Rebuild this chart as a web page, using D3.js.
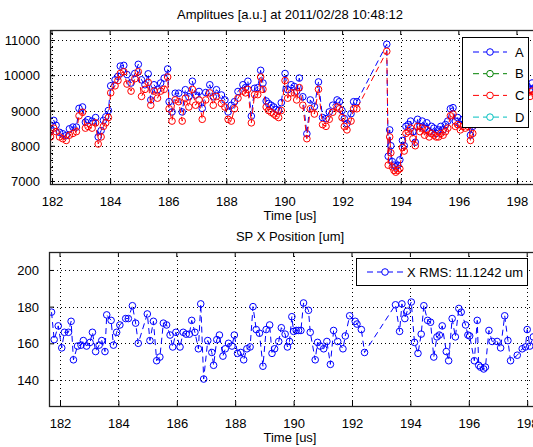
<!DOCTYPE html>
<html><head><meta charset="utf-8">
<script src="https://cdn.jsdelivr.net/npm/d3@7"></script>
<style>
html,body{margin:0;padding:0;background:#fff;}
svg{display:block;}
text{font-family:"Liberation Sans",Arial,Helvetica,sans-serif;font-size:13px;fill:#000;}
</style></head><body>
<svg id="chart" width="533" height="447"></svg>
<script>
// ---------- data ----------
const timeTop = [
181.95,182.06,182.14,182.26,182.37,182.49,182.60,182.72,182.84,182.93,
183.05,183.15,183.24,183.38,183.50,183.59,183.69,183.77,183.85,183.94,
184.02,184.17,184.27,184.35,184.47,184.58,184.72,184.85,184.97,185.08,
185.20,185.31,185.40,185.51,185.63,185.74,185.86,185.98,186.03,186.13,
186.24,186.36,186.48,186.59,186.71,186.83,186.94,187.06,187.17,187.29,
187.43,187.55,187.66,187.83,187.95,188.06,188.17,188.28,188.40,188.57,
188.66,188.74,188.86,188.97,189.08,189.18,189.26,189.37,189.45,189.54,
189.63,189.71,189.80,189.89,190.02,190.11,190.23,190.34,190.42,190.51,
190.63,190.77,190.89,191.03,191.17,191.31,191.43,191.54,191.66,191.81,
191.89,191.98,192.06,192.15,192.29,192.38,192.49,
193.52,193.57,193.62,193.66,193.71,193.77,193.83,193.90,193.97,194.06,
194.12,194.18,194.26,194.34,194.42,194.50,194.58,194.66,194.74,194.82,
194.90,194.98,195.06,195.14,195.22,195.30,195.38,195.46,195.54,195.62,
195.71,195.80,195.88,195.96,196.05,196.14,196.22,196.32,196.40,196.48,
196.56,196.65,196.75,196.85,196.95,197.05,197.15,197.25,197.35,197.45,
197.55,197.65,197.75,197.85,197.95,198.05,198.15,198.25,198.35,198.45,
198.52,198.62];
const ampA = [
8430,8720,8580,8380,8340,8290,8480,8530,8530,9060,
9100,8670,8740,8700,8800,8250,8430,8720,8820,9000,
9700,9870,9970,10260,10280,10020,9780,10050,10310,9870,
9730,10040,9300,9730,9590,9780,9920,10180,9250,8960,
9490,9490,8960,9590,9390,9830,9440,9540,9060,9510,
9730,9390,9590,9440,9300,8960,9150,9250,9540,9730,
9650,9830,8840,9630,9650,10140,9780,9270,9200,9150,
9100,9030,9000,9220,10050,9590,9730,9680,9550,9920,
9390,8340,9300,9110,9810,8800,8770,8960,9150,9300,
9250,9000,8770,8630,8910,9250,9250,
10880,7700,8450,8000,7550,7450,7400,7450,7600,8150,
8000,8550,8600,8700,8400,8100,8750,8550,8700,8500,
8650,8400,8550,8500,8350,8450,8550,8450,8600,8700,
9050,9080,8700,8800,8600,8750,8650,8700,8300,8550,
8800,9000,9150,9050,9300,9200,9400,9250,9500,9350,
9450,9300,9550,9400,9600,9450,9650,9500,9700,9600,
9780,9650];
const ampB = [];
const ampC = [
8250,8500,8400,8250,8200,8150,8300,8350,8400,8850,
8950,8500,8550,8500,8650,8050,8250,8550,8650,8800,
9500,9700,9850,10050,10100,9750,9550,9900,10100,9400,
9600,9800,9150,9550,9350,9550,9600,9950,9050,8700,
9300,9250,8700,9350,9100,9600,9150,9300,8750,9300,
9500,9150,9400,9200,9100,8750,8700,9050,9350,9550,
9500,9600,8650,9450,9450,9950,9600,9100,9000,8950,
8900,8850,8800,9000,9850,9350,9500,9500,9300,9650,
9150,8200,9050,8900,9600,8600,8550,8750,8950,9100,
9050,8800,8550,8450,8700,9050,9050,
10680,7450,8250,7800,7400,7300,7250,7300,7350,7950,
7850,8350,8400,8500,8200,8000,8550,8400,8500,8300,
8450,8250,8350,8300,8250,8250,8350,8300,8400,8500,
8850,8900,8550,8600,8450,8550,8500,8550,8150,8350,
8600,8800,8950,8850,9100,9000,9200,9050,9300,9150,
9250,9100,9350,9200,9400,9250,9450,9300,9500,9400,
9550,9450];
const ampD = [];
const seriesNames = ["A","B","C","D"];
const seriesColors = ["#0000ff","#008000","#ff0000","#00bfbf"];

const timeBottom = [
181.71,181.80,181.94,182.06,182.15,182.29,182.38,182.46,182.60,182.72,
182.80,182.91,183.03,183.11,183.22,183.34,183.43,183.54,183.60,183.75,
183.83,183.94,184.05,184.25,184.34,184.48,184.59,184.68,184.99,185.08,
185.20,185.31,185.42,185.54,185.65,185.77,185.86,185.97,186.11,186.22,
186.32,186.43,186.51,186.62,186.74,186.82,186.92,187.06,187.20,187.26,
187.37,187.46,187.58,187.66,187.77,187.89,187.97,188.08,188.19,188.29,
188.40,188.51,188.61,188.72,188.83,188.95,189.06,189.18,189.26,189.35,
189.49,189.58,189.71,189.79,189.86,189.94,190.00,190.09,190.17,190.25,
190.34,190.51,190.57,190.74,190.82,190.91,191.03,191.14,191.26,191.37,
191.51,191.69,191.77,191.92,192.11,192.17,192.32,192.43,193.49,193.63,
193.71,193.81,193.89,194.03,194.14,194.26,194.37,194.46,194.59,194.69,
194.80,194.91,194.99,195.09,195.23,195.31,195.43,195.54,195.66,195.74,
195.89,195.97,196.03,196.19,196.29,196.34,196.40,196.51,196.57,196.69,
196.80,196.97,197.09,197.23,197.34,197.43,197.66,197.83,197.94,198.00,
198.09,198.21,198.32,198.45];
const posX = [
177,162,169.5,157.5,166,166,172,151,158.5,159,
161.5,158.5,160.5,166,155.5,159,161.5,155.5,175.5,172.5,
159,166,170,173.5,173.5,180.5,171,160,176,161.5,
172,150.5,152.5,171,170,164.5,158,166,158,166,
165,165,172.5,166,157,181.5,140.5,161.5,155,148,
162,164.5,153,157,160,158.5,164.5,154.5,155,151,
157,158,180,167.5,165.5,147.5,167.5,170,154.5,157,
161,168.5,165,158,161,174.5,166.5,167,167,167,
182,178,166,151,160.5,158.5,157,161,148.5,167,
161,157,164,175,172,170.5,167.5,155,181,166.5,
181.5,173.5,177.5,182.5,160.5,154.5,165,180.5,172.5,171.5,
152.5,163.5,164.5,169.5,155.5,150.5,173.5,163.5,179,177,
170,164.5,164,150.5,172.5,148,147,146,147,167,
161,161,157.5,175,161.5,150.5,153.5,157,158,167.5,
158.5,163.5,160,165];

const timeTicks = [182,184,186,188,190,192,194,196,198];
const ampTicks = [7000,8000,9000,10000,11000];
const posTicks = [140,160,180,200];
const titleTop = "Amplitues [a.u.] at 2011/02/28 10:48:12";
const titleBottom = "SP X Position [um]";
const xLabelText = "Time [us]";
const posLegendText = "X RMS: 11.1242 um";

// ---------- drawing ----------
const svg = d3.select("#chart");
const defs = svg.append("defs");

function panel(id, box, xDom, yDom, yTicks, yMinor) {
  const x = d3.scaleLinear().domain(xDom).range([box.l, box.r]);
  const y = d3.scaleLinear().domain(yDom).range([box.b, box.t]);
  const g = svg.append("g");
  defs.append("clipPath").attr("id", id).append("rect")
    .attr("x", box.l).attr("y", box.t).attr("width", box.r - box.l).attr("height", box.b - box.t);
  // grid
  const grid = g.append("g").attr("stroke", "#000").attr("stroke-width", 1)
    .attr("stroke-dasharray", "1,3").attr("shape-rendering", "crispEdges");
  timeTicks.forEach(t => {
    const xx = Math.round(x(t)) + 0.5;
    if (xx > box.l + 1 && xx < box.r) grid.append("line").attr("x1", xx).attr("x2", xx).attr("y1", box.t).attr("y2", box.b);
  });
  yTicks.forEach(v => {
    const yy = Math.round(y(v)) + 0.5;
    grid.append("line").attr("x1", box.l).attr("x2", box.r).attr("y1", yy).attr("y2", yy);
  });
  // axes via d3 axis (ticks inside)
  const xAxis = d3.axisBottom(x).tickValues(timeTicks).tickSizeInner(-5).tickSizeOuter(0).tickPadding(10).tickFormat(d3.format("d"));
  const yAxis = d3.axisLeft(y).tickValues(yTicks).tickSizeInner(-5).tickSizeOuter(0).tickPadding(10).tickFormat(d3.format("d"));
  const gx = g.append("g").attr("transform", `translate(0,${box.b})`).call(xAxis);
  const gy = g.append("g").attr("transform", `translate(${box.l},0)`).call(yAxis);
  [gx, gy].forEach(a => {
    a.select(".domain").remove();
    a.selectAll("line").attr("stroke", "#000");
    a.selectAll("text").attr("font-size", 13).attr("font-family", '"Liberation Sans",Arial,sans-serif').attr("fill", "#000");
  });
  gx.selectAll("text").attr("dy", "0.9em");
  gy.selectAll("text").attr("dy", "0.35em");
  // top ticks
  g.append("g").selectAll("line").data(timeTicks).join("line")
    .attr("x1", d => x(d)).attr("x2", d => x(d)).attr("y1", box.t).attr("y2", box.t + 5).attr("stroke", "#000");
  if (yMinor) {
    g.append("g").selectAll("line").data(d3.range(yDom[0] - yDom[0] % yMinor + yMinor, yDom[1], yMinor)).join("line")
      .attr("x1", box.l).attr("x2", box.l + 3).attr("y1", d => Math.round(y(d)) + 0.5).attr("y2", d => Math.round(y(d)) + 0.5)
      .attr("stroke", "#000");
  }
  const plot = g.append("g").attr("clip-path", `url(#${id})`);
  // box
  g.append("rect").attr("x", box.l + 0.5).attr("y", box.t + 0.5).attr("width", box.r - box.l).attr("height", box.b - box.t)
    .attr("fill", "none").attr("stroke", "#222").attr("stroke-width", 1.3);
  return {x, y, g, plot};
}

function series(p, times, vals, color) {
  const pts = vals.map((v, i) => [times[i], v]).filter(d => d[0] != null && d[1] != null);
  if (!pts.length) return;
  const line = d3.line().x(d => p.x(d[0])).y(d => p.y(d[1]));
  p.plot.append("path").datum(pts).attr("d", line).attr("fill", "none")
    .attr("stroke", color).attr("stroke-width", 1).attr("stroke-dasharray", "6,4");
  p.plot.append("g").selectAll("circle").data(pts).join("circle")
    .attr("cx", d => p.x(d[0])).attr("cy", d => p.y(d[1])).attr("r", 3.3)
    .attr("fill", "none").attr("stroke", color).attr("stroke-width", 1);
}

function legendEntry(g, x0, x1, yy, color, label, tx) {
  g.append("line").attr("x1", x0).attr("x2", x1).attr("y1", yy).attr("y2", yy)
    .attr("stroke", color).attr("stroke-dasharray", "6,4");
  g.append("circle").attr("cx", (x0 + x1) / 2).attr("cy", yy).attr("r", 3.3)
    .attr("fill", "#fff").attr("stroke", color);
  g.append("text").attr("x", tx).attr("y", yy).attr("dy", "0.36em").text(label);
}

// top panel
const boxTop = {l: 50, r: 545, t: 30, b: 184};
const pTop = panel("clipTop", boxTop, [181.931, 198.965], [6915, 11284], ampTicks, 200);
[ampA, ampB, ampC, ampD].forEach((arr, i) => series(pTop, timeTop, arr, seriesColors[i]));
svg.append("text").attr("x", 290).attr("y", 19).attr("text-anchor", "middle").text(titleTop);
svg.append("text").attr("x", 290).attr("y", 220).attr("text-anchor", "middle").text(xLabelText);
const lgTop = svg.append("g");
lgTop.append("rect").attr("x", 462.5).attr("y", 37.5).attr("width", 66).attr("height", 90)
  .attr("fill", "#fff").attr("stroke", "#000");
seriesNames.forEach((n, i) => legendEntry(lgTop, 473, 507, 52 + i * 21.7, seriesColors[i], n, 515));

// bottom panel
const boxBot = {l: 49, r: 545, t: 252, b: 406};
const pBot = panel("clipBot", boxBot, [181.623, 198.61], [125.8, 209.8], posTicks, null);
series(pBot, timeBottom, posX, "#0000ff");
svg.append("text").attr("x", 290).attr("y", 241).attr("text-anchor", "middle").text(titleBottom);
svg.append("text").attr("x", 290).attr("y", 442).attr("text-anchor", "middle").text(xLabelText);
const lgBot = svg.append("g");
lgBot.append("rect").attr("x", 356.5).attr("y", 258.5).attr("width", 171).attr("height", 27)
  .attr("fill", "#fff").attr("stroke", "#000");
legendEntry(lgBot, 367, 403, 272, "#0000ff", posLegendText, 407);
</script>
</body></html>
